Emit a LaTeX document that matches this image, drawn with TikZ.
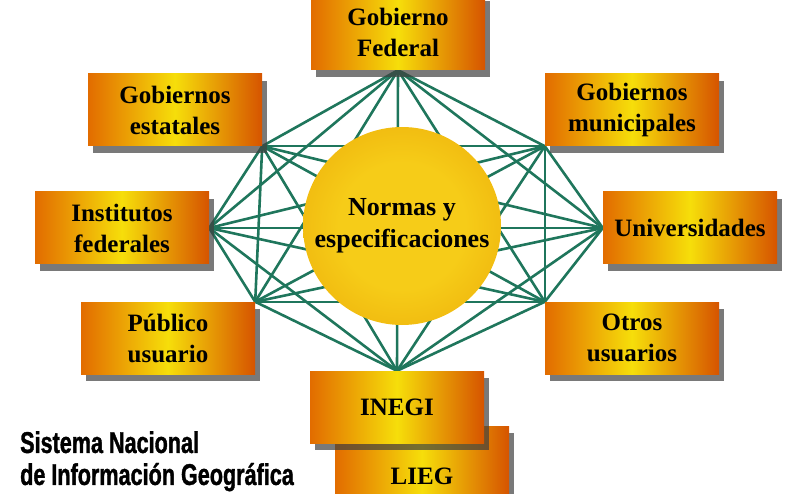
\documentclass[tikz,border=0pt]{standalone}
\usepackage{fontspec}
\setmainfont{Liberation Serif}
\newfontfamily\titlefont[FakeStretch=0.72, FakeBold=1.2]{Liberation Sans Bold}
\usepackage{tikz}
\usetikzlibrary{shadows,positioning,backgrounds}

\definecolor{linkgreen}{RGB}{31,118,92}
\definecolor{boxorange}{RGB}{226,108,0}
\definecolor{boxred}{RGB}{214,84,0}
\definecolor{boxyellow}{RGB}{246,222,10}
\definecolor{gold1}{RGB}{246,204,24}
\definecolor{gold2}{RGB}{238,178,12}
\definecolor{gold3}{RGB}{220,142,0}
\definecolor{gold4}{RGB}{190,112,0}

\pgfdeclareradialshading{sphere}{\pgfpoint{0bp}{0bp}}{%
  color(0bp)=(gold1); color(16bp)=(gold1); color(32bp)=(gold2);
  color(44bp)=(gold3); color(50bp)=(gold4)}

\begin{document}
\begin{tikzpicture}[x=1pt, y=-1pt,
    box/.style={rectangle, minimum width=174pt, minimum height=72pt, inner sep=0pt, align=center,
      left color=boxorange, right color=boxred, middle color=boxyellow,
      drop shadow={shadow xshift=5pt, shadow yshift=-7pt, fill=black!75, opacity=.7},
      font=\bfseries\fontsize{25}{31}\selectfont},
    hub/.style={circle, minimum size=198pt, inner sep=0pt, align=center, shading=sphere,
      font=\bfseries\fontsize{26}{32}\selectfont},
    link/.style={draw=linkgreen, line width=2.6pt}]
    \useasboundingbox (0,0) rectangle (792,494);

    \node[hub] (norm) at (402,226) {Normas y\\especificaciones};

    \node[box, minimum height=76pt] (fed) at (398,32) {Gobierno\\Federal};
    \node[box] (est) at (175,110) {Gobiernos\\estatales};
    \node[box] (mun) at (632,110) {Gobiernos\\municipales};
    \node[box] (inst) at (122,228) {Institutos\\federales};
    \node[box] (uni) at (690,228) {Universidades};
    \node[box] (pub) at (168,338) {Público\\usuario};
    \node[box] (otr) at (632,338) {Otros\\usuarios};
    \node[box, minimum height=100pt] (lieg) at (422,476) {LIEG};
    \node[box] (inegi) at (397,407) {INEGI};

    \node[anchor=north west, align=left, inner sep=0pt,
      font=\titlefont\fontsize{30}{32}\selectfont] (title) at (20,431)
      {Sistema Nacional\\de Información Geográfica};

    % puntos de enlace
    \coordinate (p1) at (fed.south);
    \coordinate (p2) at (est.south east);
    \coordinate (p3) at (mun.south west);
    \coordinate (p4) at (inst.east);
    \coordinate (p5) at (uni.west);
    \coordinate (p6) at (pub.north east);
    \coordinate (p7) at (otr.north west);
    \coordinate (p8) at (inegi.north);

    \begin{scope}[on background layer]
      \foreach \i [evaluate=\i as \k using int(\i+1)] in {1,...,7}
        \foreach \j in {\k,...,8}
          \draw[link] (p\i) -- (p\j);
    \end{scope}
\end{tikzpicture}
\end{document}
